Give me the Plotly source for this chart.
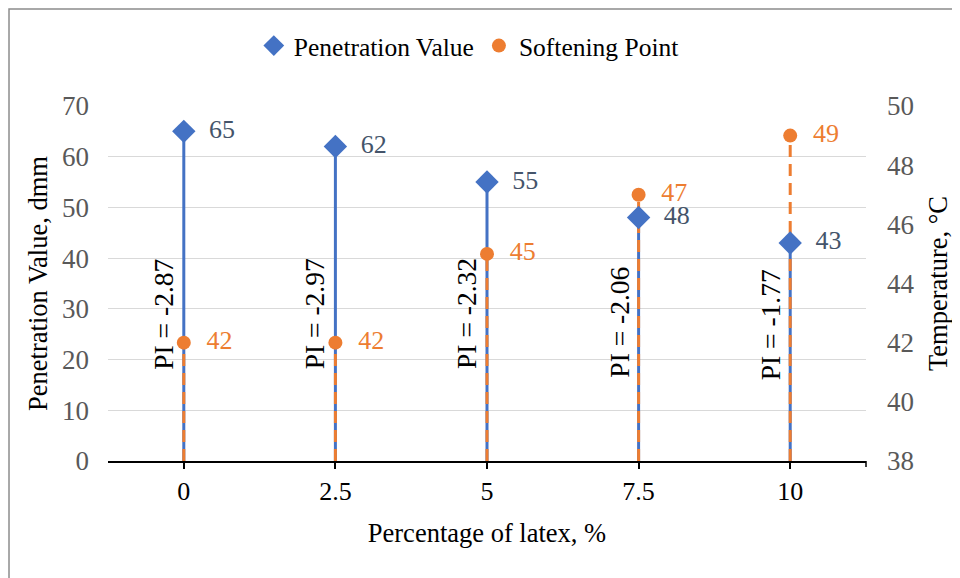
import plotly.graph_objects as go

categories = ["0", "2.5", "5", "7.5", "10"]
penetration = [65, 62, 55, 48, 43]
softening = [42, 42, 45, 47, 49]
pi_labels = ["PI = -2.87", "PI = -2.97", "PI = -2.32", "PI = -2.06", "PI = -1.77"]
pi_label_y = [29.0, 29.0, 29.0, 27.4, 26.8]

BLUE = "#4472C4"
ORANGE = "#ED7D31"
FONT = "Liberation Serif"

def stems(xs, ys, base):
    sx, sy = [], []
    for x, y in zip(xs, ys):
        sx += [x, x, None]
        sy += [base, y, None]
    return sx, sy

fig = go.Figure()

bx, by = stems(categories, penetration, 0)
fig.add_trace(go.Scatter(x=bx, y=by, mode="lines", line=dict(color=BLUE, width=3),
                         showlegend=False, hoverinfo="skip", yaxis="y"))

ox, oy = stems(categories, softening, 38)
fig.add_trace(go.Scatter(x=ox, y=oy, mode="lines", line=dict(color=ORANGE, width=3, dash="12px,7px"),
                         showlegend=False, hoverinfo="skip", yaxis="y2"))

fig.add_trace(go.Scatter(x=categories, y=softening, mode="markers+text", name="Softening Point",
                         marker=dict(symbol="circle", size=14, color=ORANGE),
                         text=["  " + str(v) for v in softening], textposition="middle right",
                         textfont=dict(family=FONT, size=26, color=ORANGE),
                         yaxis="y2", legendrank=2))

fig.add_trace(go.Scatter(x=categories, y=penetration, mode="markers+text", name="Penetration Value",
                         marker=dict(symbol="diamond", size=18, color=BLUE),
                         text=["  " + str(v) for v in penetration], textposition="middle right",
                         textfont=dict(family=FONT, size=26, color="#44546A"),
                         yaxis="y3", legendrank=1))

for i, (lab, yv) in enumerate(zip(pi_labels, pi_label_y)):
    fig.add_annotation(x=i, y=yv, xref="x", yref="y", text=lab, textangle=-90,
                       showarrow=False, xshift=-20,
                       font=dict(family=FONT, size=27.5, color="black"))

# chart frame
fig.add_shape(type="rect", xref="paper", yref="paper", x0=-0.1306, x1=1.3, y0=-0.6, y1=1.273,
              line=dict(color="#8c8c8c", width=1.5), layer="below")
# end tick on x axis
fig.add_shape(type="line", xref="paper", yref="paper", x0=1, x1=1, y0=0, y1=-0.017,
              line=dict(color="black", width=1.5))

fig.update_layout(
    width=960, height=578,
    margin=dict(l=100, r=102, t=98, b=125),
    paper_bgcolor="white", plot_bgcolor="white",
    font=dict(family=FONT, size=26, color="black"),
    legend=dict(orientation="h", x=0.476, xanchor="center", y=1.169, yanchor="middle",
                font=dict(family=FONT, size=25.5, color="black"),
                traceorder="normal"),
    xaxis=dict(type="category", range=[-0.5, 4.5], showline=True, linecolor="black", linewidth=1.5,
               ticks="outside", ticklen=6, tickcolor="black", tickwidth=1.5,
               showgrid=False, zeroline=False,
               tickfont=dict(family=FONT, size=26, color="black"),
               title=dict(text="Percentage of latex, %", font=dict(family=FONT, size=26.5, color="black"),
                          standoff=18)),
    yaxis=dict(range=[0, 70], dtick=10, showgrid=True, gridcolor="#d9d9d9", gridwidth=1,
               zeroline=False, showline=False, ticks="", ticklabelstandoff=18,
               tickfont=dict(family=FONT, size=27, color="#595959"),
               title=dict(text="Penetration Value, dmm", font=dict(family=FONT, size=26.5, color="black"),
                          standoff=6)),
    yaxis2=dict(range=[38, 50], dtick=2, overlaying="y", side="right", showgrid=False,
                zeroline=False, showline=False, ticks="", ticklabelstandoff=20,
                tickfont=dict(family=FONT, size=27, color="#595959"),
                title=dict(text="Temperature, °C", font=dict(family=FONT, size=26.5, color="black"),
                           standoff=14)),
    yaxis3=dict(range=[0, 70], overlaying="y", visible=False),
    showlegend=True,
)

fig.write_html("out.html")
